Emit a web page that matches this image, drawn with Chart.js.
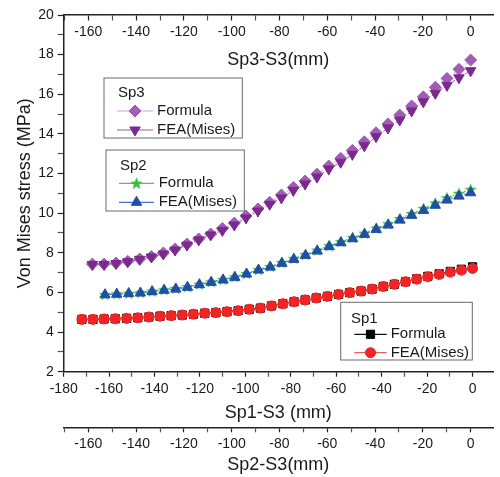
<!DOCTYPE html>
<html><head><meta charset="utf-8">
<script src="https://cdn.jsdelivr.net/npm/chart.js@4"></script>
<style>html,body{margin:0;padding:0;background:#fff;}canvas{display:block;}</style>
</head><body>
<canvas id="c" width="500" height="477"></canvas>
<script>
// ---------- data ----------
const sp1X = [-172.0,-167.1,-162.2,-157.3,-152.3,-147.4,-142.5,-137.6,-132.7,-127.8,-122.9,-117.9,-113.0,-108.1,-103.2,-98.3,-93.4,-88.5,-83.5,-78.6,-73.7,-68.8,-63.9,-59.0,-54.1,-49.1,-44.2,-39.3,-34.4,-29.5,-24.6,-19.7,-14.7,-9.8,-4.9,0.0];
const sp1FEA = [4.64,4.64,4.66,4.67,4.69,4.72,4.76,4.80,4.83,4.86,4.90,4.95,4.98,5.03,5.08,5.15,5.21,5.32,5.43,5.53,5.62,5.72,5.80,5.90,5.99,6.07,6.17,6.30,6.41,6.54,6.67,6.79,6.91,7.02,7.12,7.21];
const sp1Formula = [4.64,4.64,4.66,4.67,4.69,4.72,4.76,4.80,4.83,4.86,4.90,4.95,4.98,5.03,5.08,5.15,5.21,5.32,5.43,5.53,5.62,5.72,5.80,5.90,5.99,6.07,6.17,6.30,6.41,6.54,6.68,6.81,6.94,7.06,7.17,7.29];

const sp2X = [-153.0,-148.1,-143.1,-138.2,-133.3,-128.3,-123.4,-118.5,-113.5,-108.6,-103.6,-98.7,-93.8,-88.8,-83.9,-79.0,-74.0,-69.1,-64.2,-59.2,-54.3,-49.4,-44.4,-39.5,-34.5,-29.6,-24.7,-19.7,-14.8,-9.9,-4.9,0.0];
const sp2FEA = [5.88,5.91,5.94,5.97,6.04,6.11,6.17,6.26,6.39,6.51,6.63,6.76,6.93,7.13,7.28,7.47,7.67,7.87,8.09,8.31,8.51,8.71,8.93,9.18,9.40,9.65,9.89,10.14,10.40,10.66,10.86,11.03];
const sp2Formula = [5.90,5.93,5.96,6.00,6.07,6.14,6.20,6.29,6.42,6.54,6.66,6.79,6.96,7.16,7.31,7.51,7.72,7.92,8.14,8.36,8.57,8.77,8.99,9.25,9.47,9.73,9.98,10.24,10.51,10.78,11.00,11.21];

const sp3X = [-158.3,-153.4,-148.4,-143.5,-138.5,-133.6,-128.6,-123.7,-118.7,-113.8,-108.8,-103.9,-98.9,-94.0,-89.0,-84.1,-79.2,-74.2,-69.3,-64.3,-59.4,-54.4,-49.5,-44.5,-39.6,-34.6,-29.7,-24.7,-19.8,-14.8,-9.9,-4.9,0.0];
const sp3Formula = [7.43,7.43,7.48,7.57,7.69,7.81,7.99,8.19,8.44,8.70,8.95,9.23,9.50,9.86,10.21,10.55,10.92,11.30,11.62,11.97,12.38,12.77,13.17,13.60,14.06,14.50,14.95,15.41,15.87,16.35,16.80,17.26,17.73];
const sp3FEA = [7.41,7.41,7.46,7.55,7.67,7.79,7.94,8.14,8.39,8.65,8.90,9.13,9.40,9.76,10.11,10.45,10.77,11.15,11.47,11.82,12.23,12.57,12.97,13.40,13.86,14.30,14.70,15.16,15.62,16.05,16.45,16.83,17.19];

const yTicks = [2,3,4,5,6,7,8,9,10,11,12,13,14,15,16,17,18,19,20];
const yTickLabels = [2,4,6,8,10,12,14,16,18,20];
const sp1Ticks = [-180,-170,-160,-150,-140,-130,-120,-110,-100,-90,-80,-70,-60,-50,-40,-30,-20,-10,0];
const sp1TickLabels = [-180,-160,-140,-120,-100,-80,-60,-40,-20,0];
const sp23Ticks = [-170,-160,-150,-140,-130,-120,-110,-100,-90,-80,-70,-60,-50,-40,-30,-20,-10,0];
const sp23TickLabels = [-160,-140,-120,-100,-80,-60,-40,-20,0];

// ---------- styling ----------
const FONT = "'Liberation Sans', Arial, sans-serif";
const INK = '#1a1a1a';
const pts = (xs, ys) => xs.map((x, i) => ({x: x, y: ys[i]}));

const star = document.createElement('canvas');
star.width = 13; star.height = 13;
(function(){
  const g = star.getContext('2d');
  g.fillStyle = '#3dbd3d';
  g.beginPath();
  for (let k = 0; k < 10; k++) {
    const r = k % 2 === 0 ? 6.5 : 2.8;
    const a = -Math.PI / 2 + k * Math.PI / 5;
    const px = 6.5 + r * Math.cos(a), py = 7 + r * Math.sin(a);
    if (k === 0) g.moveTo(px, py); else g.lineTo(px, py);
  }
  g.closePath(); g.fill();
})();

function ds(label, xs, ys, axis, o) {
  return Object.assign({
    label: label, data: pts(xs, ys), xAxisID: axis, yAxisID: 'y',
    borderWidth: 1, tension: 0, pointBorderWidth: 1, pointHoverRadius: 5
  }, o);
}

const datasets = [
  ds('Sp3 Formula', sp3X, sp3Formula, 'xSp3', {order: 1, borderColor: '#d7a3e0', borderDash: [3, 2], pointStyle: 'rectRot', pointRadius: 6, pointBackgroundColor: '#a15db5', pointBorderColor: '#a15db5'}),
  ds('Sp3 FEA(Mises)', sp3X, sp3FEA, 'xSp3', {order: 0, borderColor: '#9b55ab', borderDash: [3, 2], pointStyle: 'triangle', pointRotation: 180, pointRadius: 6, pointBackgroundColor: '#7a2a8c', pointBorderColor: '#7a2a8c'}),
  ds('Sp2 Formula', sp2X, sp2Formula, 'xSp2', {order: 1, borderColor: '#55c455', borderDash: [2, 2], pointStyle: star, pointRadius: 6, pointBackgroundColor: '#3dbd3d', pointBorderColor: '#3dbd3d'}),
  ds('Sp2 FEA(Mises)', sp2X, sp2FEA, 'xSp2', {order: 0, borderColor: '#4a6ccc', borderDash: [3, 2], pointStyle: 'triangle', pointRadius: 6, pointBackgroundColor: '#1f4fa6', pointBorderColor: '#1f4fa6'}),
  ds('Sp1 Formula', sp1X, sp1Formula, 'xSp1', {order: 1, borderColor: '#111', pointStyle: 'rect', pointRadius: 5.8, pointBackgroundColor: '#000', pointBorderColor: '#000'}),
  ds('Sp1 FEA(Mises)', sp1X, sp1FEA, 'xSp1', {order: 0, borderColor: '#e06060', pointStyle: 'circle', pointRadius: 5, pointBackgroundColor: '#f02424', pointBorderColor: '#f02424'})
];

function xScale(id, ticks, labels, min, max, pos, extra) {
  return Object.assign({
    type: 'linear', axis: 'x', position: pos, min: min, max: max,
    afterBuildTicks: s => { s.ticks = ticks.map(v => ({value: v})); },
    ticks: {autoSkip: false, maxRotation: 0, padding: 4.2, color: INK, font: {family: FONT, size: 14},
      callback: v => labels.includes(v) ? String(v) : ''},
    grid: {drawOnChartArea: false, drawTicks: true, tickLength: 5, tickWidth: 1.2,
      tickColor: c => (c.tick && labels.includes(c.tick.value)) ? '#222' : '#555'},
    border: {display: true, color: '#222', width: 1.5},
    title: {display: true, color: INK, font: {family: FONT, size: 18}}
  }, extra);
}

const scales = {
  y: {
    type: 'linear', position: 'left', min: 2, max: 20,
    afterBuildTicks: s => { s.ticks = yTicks.map(v => ({value: v})); },
    afterFit: s => { s.width = 63.7; },
    ticks: {autoSkip: false, padding: 4, color: INK, font: {family: FONT, size: 14},
      callback: v => yTickLabels.includes(v) ? String(v) : ''},
    grid: {drawOnChartArea: false, tickLength: 6, tickWidth: 1.2,
      tickColor: c => (c.tick && yTickLabels.includes(c.tick.value)) ? '#222' : '#555'},
    border: {display: true, color: '#222', width: 1.5},
    title: {display: true, text: 'Von Mises stress (MPa)', color: INK, font: {family: FONT, size: 18}, padding: {top: 14.7, bottom: 0}}
  },
  xSp1: xScale('xSp1', sp1Ticks, sp1TickLabels, -180, 9, 'bottom', {weight: 0, afterFit: s => { s.height = 55.6; }}),
  xSp2: xScale('xSp2', sp23Ticks, sp23TickLabels, -170.3, 9.35, 'bottom', {weight: 1, afterFit: s => { s.height = 49.7; }}),
  xSp3: xScale('xSp3', sp23Ticks, sp23TickLabels, -170.3, 9.35, {y: 20}, {})
};
scales.xSp1.title.text = 'Sp1-S3 (mm)';
scales.xSp1.title.padding = {top: 0, bottom: 3.2};
scales.xSp2.title.text = 'Sp2-S3(mm)';
scales.xSp2.title.padding = {top: 0, bottom: 1.2};
scales.xSp2.ticks.padding = 3.3;
scales.xSp3.title.text = 'Sp3-S3(mm)';
scales.xSp3.title.padding = {top: 4, bottom: 0};

// ---------- grouped legends ----------
const legendGroups = [
  {title: 'Sp3', rect: [104, 78, 138.3, 60], titleX: 118, titleY: 93, lineX: [117, 153], textX: 157, rows: [[0, 111], [1, 130]]},
  {title: 'Sp2', rect: [106, 150, 138.3, 61], titleX: 120, titleY: 165.7, lineX: [119, 154], textX: 158.7, rows: [[2, 183.3], [3, 202.3]]},
  {title: 'Sp1', rect: [340.7, 302.3, 131.6, 57.7], titleX: 351, titleY: 319.3, lineX: [354.3, 386.7], textX: 390.7, rows: [[4, 334.3], [5, 352.7]]}
];

function marker(ctx, d, x, y) {
  const st = d.pointStyle, r = d.pointRadius, rot = (d.pointRotation || 0) * Math.PI / 180;
  if (Chart.helpers && Chart.helpers.drawPoint) {
    Chart.helpers.drawPoint(ctx, {pointStyle: st, rotation: d.pointRotation || 0, radius: r, borderWidth: 1}, x, y);
    return;
  }
  ctx.save(); ctx.translate(x, y); ctx.rotate(rot);
  if (typeof st !== 'string') { ctx.drawImage(st, -st.width / 2, -st.height / 2); ctx.restore(); return; }
  ctx.beginPath();
  if (st === 'circle') ctx.arc(0, 0, r, 0, 2 * Math.PI);
  else if (st === 'rect') { const s = r * Math.SQRT1_2; ctx.rect(-s, -s, 2 * s, 2 * s); }
  else if (st === 'rectRot') { ctx.moveTo(-r, 0); ctx.lineTo(0, -r); ctx.lineTo(r, 0); ctx.lineTo(0, r); ctx.closePath(); }
  else if (st === 'triangle') { for (let k = 0; k < 3; k++) { const a = k * 2 * Math.PI / 3; ctx[k ? 'lineTo' : 'moveTo'](Math.sin(a) * r, -Math.cos(a) * r); } ctx.closePath(); }
  ctx.fill(); ctx.stroke(); ctx.restore();
}

const groupLegend = {
  id: 'groupLegend',
  afterDraw(chart) {
    const ctx = chart.ctx;
    const sets = chart.data.datasets;
    legendGroups.forEach(g => {
      ctx.save();
      ctx.fillStyle = '#fff';
      ctx.fillRect(g.rect[0], g.rect[1], g.rect[2], g.rect[3]);
      ctx.strokeStyle = '#6a6a6a'; ctx.lineWidth = 1;
      ctx.strokeRect(g.rect[0], g.rect[1], g.rect[2], g.rect[3]);
      ctx.fillStyle = INK; ctx.font = '15px ' + FONT; ctx.textBaseline = 'middle'; ctx.textAlign = 'left';
      ctx.fillText(g.title, g.titleX, g.titleY);
      g.rows.forEach(([i, y]) => {
        const d = sets[i];
        ctx.strokeStyle = d.borderColor; ctx.lineWidth = 1.2; ctx.setLineDash([]);
        ctx.beginPath(); ctx.moveTo(g.lineX[0], y); ctx.lineTo(g.lineX[1], y); ctx.stroke();
        ctx.fillStyle = d.pointBackgroundColor; ctx.strokeStyle = d.pointBorderColor; ctx.lineWidth = 1;
        marker(ctx, d, (g.lineX[0] + g.lineX[1]) / 2, y);
        ctx.fillStyle = INK;
        ctx.fillText(d.label.replace(/^Sp\d /, ''), g.textX, y);
      });
      ctx.restore();
    });
  }
};

new Chart(document.getElementById('c'), {
  type: 'line',
  data: {datasets: datasets},
  options: {
    responsive: false, animation: false, devicePixelRatio: 1,
    layout: {padding: {top: 15, left: 0, right: 0, bottom: 0}},
    plugins: {legend: {display: false}, tooltip: {enabled: false}},
    scales: scales
  },
  plugins: [groupLegend]
});
</script>
</body></html>
